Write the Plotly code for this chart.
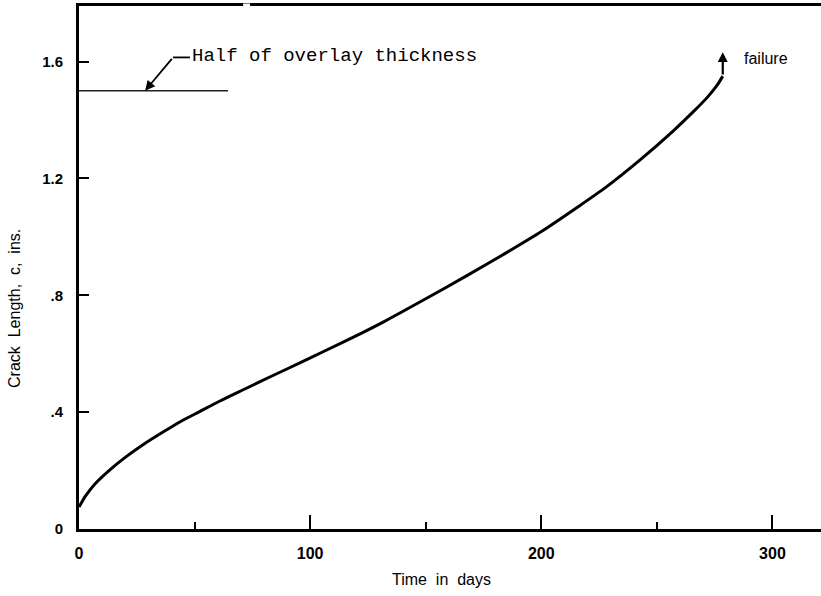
import plotly.graph_objects as go

# ---- data ----
days = [0, 3, 7, 13, 20, 28, 36, 44, 52, 61, 72, 83, 96, 106.5,
        121.6, 132, 150, 168, 185, 200, 215, 228, 243, 257, 266, 272, 276,
        278.5]
crack = [0.075, 0.115, 0.155, 0.2, 0.245, 0.29, 0.33, 0.368, 0.401, 0.438,
         0.48, 0.522, 0.57, 0.61, 0.668, 0.71, 0.788, 0.868, 0.946, 1.018,
         1.098, 1.17, 1.265, 1.362, 1.43, 1.479, 1.518, 1.55]
failure_day = 278.5
failure_top = 1.632
half_overlay = 1.5
half_overlay_end = 64.5
x_ticks = [0, 100, 200, 300]
x_ticklabels = ["0", "100", "200", "300"]
y_ticks = [0, 0.4, 0.8, 1.2, 1.6]
y_ticklabels = ["0", ".4", ".8", "1.2", "1.6"]

fig = go.Figure()
fig.add_trace(go.Scatter(x=days, y=crack, mode="lines",
                         line=dict(color="black", width=3, shape="spline",
                                   smoothing=0.8),
                         showlegend=False, hoverinfo="skip"))
# half of overlay thickness line
fig.add_trace(go.Scatter(x=[0, half_overlay_end], y=[half_overlay, half_overlay],
                         mode="lines", line=dict(color="#222", width=1.5),
                         showlegend=False, hoverinfo="skip"))

sans = "Liberation Sans, Arial, sans-serif"
mono = "Liberation Mono, Courier New, monospace"

# failure arrow
fig.add_annotation(x=failure_day, y=failure_top, ax=failure_day, ay=crack[-1],
                   xref="x", yref="y", axref="x", ayref="y", text="",
                   showarrow=True, arrowhead=2, arrowsize=0.9, arrowwidth=2.2,
                   arrowcolor="black", standoff=0, startstandoff=0)
fig.add_annotation(x=287, y=1.612, xref="x", yref="y", text="failure",
                   showarrow=False, xanchor="left", yanchor="middle",
                   font=dict(family=sans, size=16, color="black"))

# leader for half of overlay thickness
fig.add_annotation(x=28.6, y=half_overlay, ax=40.7, ay=1.614,
                   xref="x", yref="y", axref="x", ayref="y", text="",
                   showarrow=True, arrowhead=2, arrowsize=1.1, arrowwidth=1.8,
                   arrowcolor="black", standoff=0, startstandoff=0)
fig.add_shape(type="line", x0=40.7, x1=48.0, y0=1.614, y1=1.614,
              xref="x", yref="y", line=dict(color="black", width=1.8))
fig.add_annotation(x=48.0, y=1.62, xref="x", yref="y",
                   text="Half of overlay thickness", showarrow=False,
                   xanchor="left", yanchor="middle",
                   font=dict(family=mono, size=19, color="black"))

# small break in the top frame line (as in the scanned original)
fig.add_shape(type="line", x0=71, x1=74, y0=1, y1=1, xref="x", yref="paper",
              line=dict(color="white", width=5), layer="above")

# axis titles
fig.add_annotation(x=0.489, y=-0.0975, xref="paper", yref="paper",
                   text="Time  in  days", showarrow=False,
                   xanchor="center", yanchor="middle",
                   font=dict(family=sans, size=16, color="black"))
fig.add_annotation(x=-0.0863, y=0.4226, xref="paper", yref="paper",
                   text="Crack  Length,  c,  ins.", showarrow=False,
                   textangle=-90, xanchor="center", yanchor="middle",
                   font=dict(family=sans, size=16, color="black"))

fig.update_xaxes(range=[0, 321], showline=True, linewidth=3, linecolor="black",
                 mirror=True, ticks="inside", ticklen=14, tickwidth=2,
                 tickcolor="black", tickvals=x_ticks, ticktext=x_ticklabels,
                 tickfont=dict(family=sans, size=16, color="black", weight="bold"),
                 ticklabelstandoff=8,
                 minor=dict(ticks="inside", ticklen=7, tickwidth=2,
                            tickcolor="black", dtick=50, tick0=0, showgrid=False),
                 showgrid=False, zeroline=False)
fig.update_yaxes(range=[0, 1.79], showline=True, linewidth=3, linecolor="black",
                 mirror=False, ticks="inside", ticklen=10, tickwidth=1.5,
                 tickcolor="black", tickvals=y_ticks, ticktext=y_ticklabels,
                 tickfont=dict(family=sans, size=15, color="black", weight="bold"),
                 ticklabelstandoff=10,
                 showgrid=False, zeroline=False)

fig.update_layout(width=821, height=596, plot_bgcolor="white",
                  paper_bgcolor="white",
                  margin=dict(l=79, r=0, t=6, b=67))
fig.write_html("out.html")
